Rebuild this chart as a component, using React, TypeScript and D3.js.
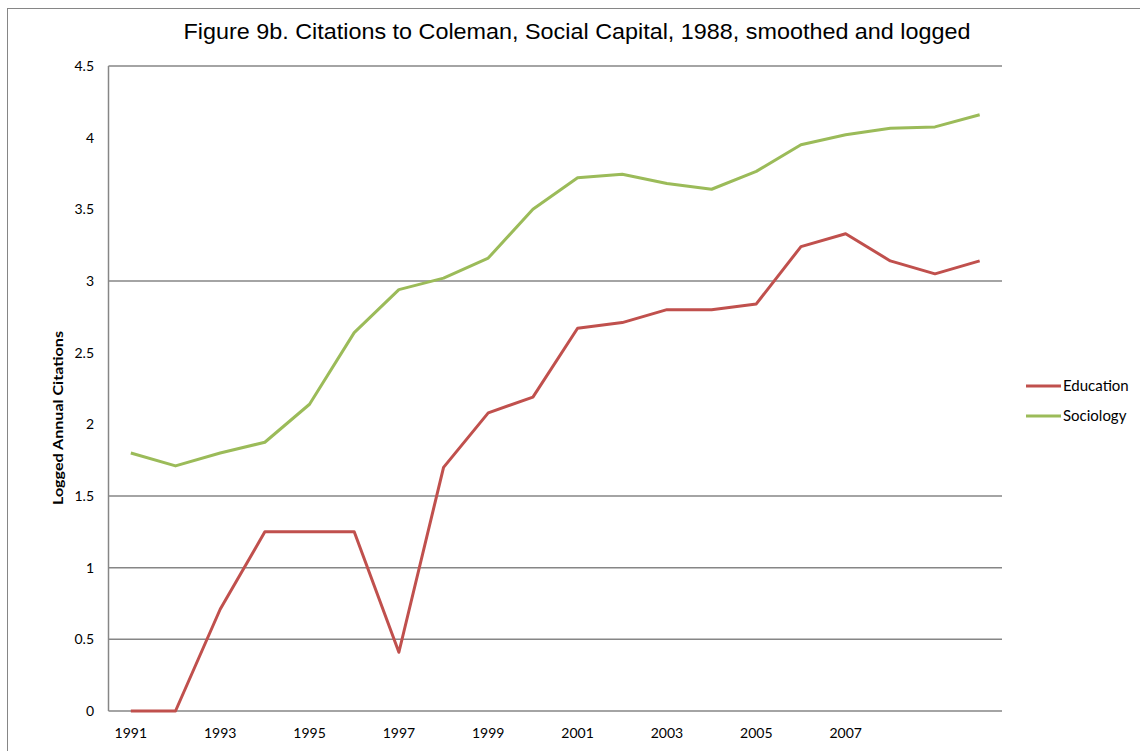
import React from "react";
import * as d3 from "d3";

const years = [1991,1992,1993,1994,1995,1996,1997,1998,1999,2000,2001,2002,2003,2004,2005,2006,2007,2008,2009,2010];
const tickYears = [1991,1993,1995,1997,1999,2001,2003,2005,2007];
const education = [0,0,0.71,1.25,1.25,1.25,0.41,1.70,2.08,2.19,2.67,2.71,2.80,2.80,2.84,3.24,3.33,3.14,3.05,3.14];
const sociology = [1.80,1.71,1.80,1.875,2.14,2.64,2.94,3.02,3.16,3.50,3.72,3.745,3.68,3.64,3.765,3.95,4.02,4.065,4.075,4.16];
const yTicks = [0,0.5,1,1.5,2,2.5,3,3.5,4,4.5];
const gridValues = [0.5,1,1.5,3,4.5];
const seriesNames = ["Education","Sociology"];
const seriesColors = ["#C0504D","#9BBB59"];

const W = 1140, H = 751;
const left = 108.5, right = 1002, top = 66, bottom = 711;

export default function App() {
  const x = d3.scaleBand<number>().domain(years).range([left, right]).padding(0);
  const cx = (yr: number) => (x(yr) as number) + x.bandwidth() / 2;
  const y = d3.scaleLinear().domain([0, 4.5]).range([bottom, top]);
  const line = d3.line<number>().x((_, i) => cx(years[i])).y(d => y(d));
  const series = [education, sociology];
  const font = "Lato, 'Open Sans', sans-serif";

  return (
    <svg width={W} height={H} style={{ position: "absolute", left: 0, top: 0, background: "#fff" }}>
      <rect x={7.5} y={8.5} width={W} height={H} fill="#fff" stroke="#868686" strokeWidth={1} />
      <text x={577} y={39} textAnchor="middle" fontFamily="'Liberation Sans', Arial, sans-serif" fontSize={22}
        textLength={787} lengthAdjust="spacingAndGlyphs" fill="#000">
        Figure 9b. Citations to Coleman, Social Capital, 1988, smoothed and logged
      </text>
      {gridValues.map(v => (
        <line key={v} x1={left} x2={right} y1={y(v)} y2={y(v)} stroke="#868686" strokeWidth={1.5} />
      ))}
      <line x1={left} x2={right} y1={bottom} y2={bottom} stroke="#868686" strokeWidth={1.5} />
      <line x1={left} x2={left} y1={top} y2={bottom} stroke="#868686" strokeWidth={1.5} />
      {yTicks.map(v => (
        <text key={v} x={94} y={y(v)} dy="0.35em" textAnchor="end" fontFamily={font} fontSize={14} fill="#000">
          {String(v)}
        </text>
      ))}
      {tickYears.map(yr => (
        <text key={yr} x={cx(yr)} y={738} textAnchor="middle" fontFamily={font} fontSize={14} fill="#000">
          {yr}
        </text>
      ))}
      <text transform={`translate(63,418) rotate(-90)`} textAnchor="middle"
        fontFamily={font} fontSize={14} fontWeight="bold" fill="#000"
        textLength={174} lengthAdjust="spacingAndGlyphs">
        Logged Annual Citations
      </text>
      {series.map((s, i) => (
        <path key={i} d={line(s) || ""} fill="none" stroke={seriesColors[i]} strokeWidth={3} strokeLinejoin="round" />
      ))}
      {seriesNames.map((n, i) => (
        <g key={n}>
          <line x1={1026} x2={1061} y1={386 + i * 30} y2={386 + i * 30} stroke={seriesColors[i]} strokeWidth={3} />
          <text x={1063} y={386 + i * 30} dy="0.35em" fontFamily={font} fontSize={15} fill="#000">{n}</text>
        </g>
      ))}
    </svg>
  );
}
